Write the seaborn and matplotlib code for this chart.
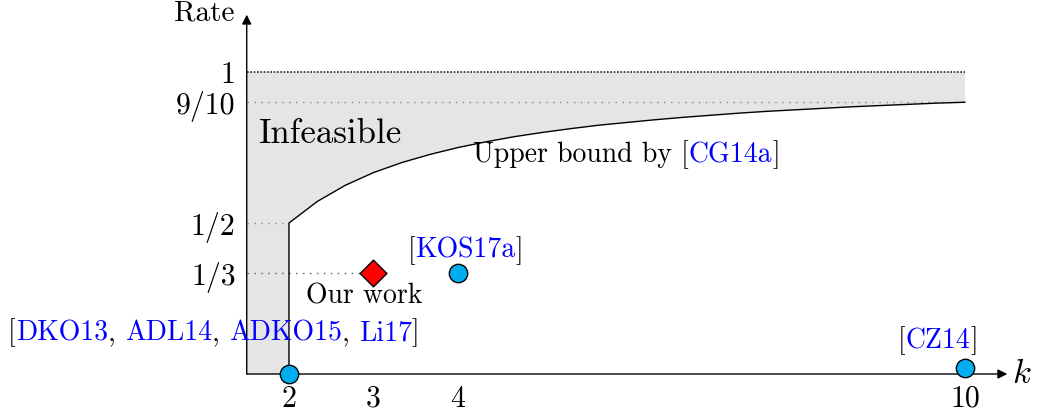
import matplotlib
matplotlib.use("Agg")
import matplotlib.pyplot as plt
from matplotlib.offsetbox import TextArea, HPacker, AnnotationBbox
import seaborn as sns
import pandas as pd

# upper bound curve (k, rate)
bound_k = [2, 2.333, 2.667, 3, 3.333, 3.667, 4, 4.333, 4.667, 5, 5.333, 5.667,
           6, 6.333, 6.667, 7, 7.333, 7.667, 8, 8.333, 8.667, 9, 9.333, 9.667, 10]
bound_rate = [0.5, 0.571, 0.625, 0.667, 0.7, 0.727, 0.75, 0.769, 0.786, 0.8, 0.8125, 0.824,
              0.833, 0.842, 0.85, 0.857, 0.864, 0.870, 0.875, 0.88, 0.885, 0.889, 0.893, 0.897, 0.9]

# prior results and ours
prior_k = [2, 4, 10]
prior_rate = [0, 1/3, 0.02]
ours_k = [3]
ours_rate = [1/3]

xtick_vals = [2, 3, 4, 10]
xtick_labels = ["2", "3", "4", "10"]
ytick_vals = [1/3, 1/2, 9/10, 1]
ytick_labels = ["1/3", "1/2", "9/10", "1"]

k_min = 1.5
BLUE = "blue"
CYAN = "#00AEEF"

sns.set_style("white")
plt.rcParams["font.family"] = "cmr10"
plt.rcParams["mathtext.fontset"] = "cm"
plt.rcParams["axes.formatter.use_mathtext"] = True
for key in ["text.color", "xtick.color", "ytick.color", "axes.labelcolor"]:
    plt.rcParams[key] = "black"

fig = plt.figure(figsize=(10.41, 4.17), dpi=100)
ax = fig.add_axes([0.2370, 0.1031, 0.755, 0.8835])
ax.set_xlim(k_min, 10.8)
ax.set_ylim(0, 1.22)
for s in ax.spines.values():
    s.set_visible(False)

# infeasible region
poly_x = [k_min, bound_k[0]] + bound_k + [bound_k[-1], k_min]
poly_y = [0, 0] + bound_rate + [1, 1]
ax.fill(poly_x, poly_y, color="#e5e5e5", lw=0, zorder=1)

# guide lines
ax.plot([k_min, 10], [1, 1], color="#222222", lw=1.2, ls=(0, (1, 1)), zorder=2)
ax.plot([k_min, 10], [0.9, 0.9], color="#888888", lw=1, ls=(0, (1, 4)), zorder=2)
ax.plot([k_min, 2], [0.5, 0.5], color="#888888", lw=1, ls=(0, (1, 4)), zorder=2)
ax.plot([k_min, 3], [1/3, 1/3], color="#555555", lw=1, ls=(0, (1, 4)), zorder=2)

# boundary
df_b = pd.DataFrame({"k": [bound_k[0]] + bound_k, "rate": [0] + bound_rate})
sns.lineplot(data=df_b, x="k", y="rate", sort=False, estimator=None,
             color="black", lw=1.0, ax=ax, zorder=3)

# axes with arrows
arrow = dict(arrowstyle="-|>", color="black", lw=1, mutation_scale=14, shrinkA=0, shrinkB=0)
ax.annotate("", xy=(10.5, 0), xytext=(k_min, 0), arrowprops=arrow, zorder=4)
ax.annotate("", xy=(k_min, 1.19), xytext=(k_min, 0), arrowprops=arrow, zorder=4)

# points
df_p = pd.DataFrame({"k": prior_k, "rate": prior_rate})
sns.scatterplot(data=df_p, x="k", y="rate", color=CYAN, edgecolor="black",
                linewidth=1, s=175, ax=ax, zorder=5, clip_on=False)
df_o = pd.DataFrame({"k": ours_k, "rate": ours_rate})
sns.scatterplot(data=df_o, x="k", y="rate", marker="D", color="red", edgecolor="black",
                linewidth=1, s=185, ax=ax, zorder=5, clip_on=False)

ax.set_xlabel("")
ax.set_ylabel("")
ax.set_xticks(xtick_vals, xtick_labels)
ax.set_yticks(ytick_vals, ytick_labels)
ax.tick_params(axis="both", length=0, labelsize=21.5)
ax.tick_params(axis="x", pad=8)
ax.tick_params(axis="y", pad=8)

ax.text(1.36, 1.195, "Rate", fontsize=21, ha="right", va="center")
ax.text(10.67, 0.0, "$k$", fontsize=25, ha="center", va="center")
ax.text(2.485, 0.795, "Infeasible", fontsize=25, ha="center", va="center")
ax.text(2.89, 0.258, "Our work", fontsize=20, ha="center", va="center")


def cite(parts, xy, size=20, align=(0.5, 0.5)):
    boxes = [TextArea(t, textprops=dict(color=c, fontsize=size, family="cmr10")) for t, c in parts]
    pack = HPacker(children=boxes, align="baseline", pad=0, sep=0)
    ab = AnnotationBbox(pack, xy, frameon=False, box_alignment=align,
                        xycoords="data", annotation_clip=False, zorder=6)
    ax.add_artist(ab)


cite([("Upper bound by [", "black"), ("CG14a", BLUE), ("]", "black")], (4.18, 0.725), align=(0, 0.5))
cite([("[", "black"), ("KOS17a", BLUE), ("]", "black")], (4.09, 0.41))
cite([("[", "black"), ("CZ14", BLUE), ("]", "black")], (9.68, 0.109))
cite([("[", "black"), ("DKO13", BLUE), (", ", "black"), ("ADL14", BLUE), (", ", "black"),
      ("ADKO15", BLUE), (", ", "black"), ("Li17", BLUE), ("]", "black")], (1.11, 0.136))

fig.savefig("out.png", dpi=100)
